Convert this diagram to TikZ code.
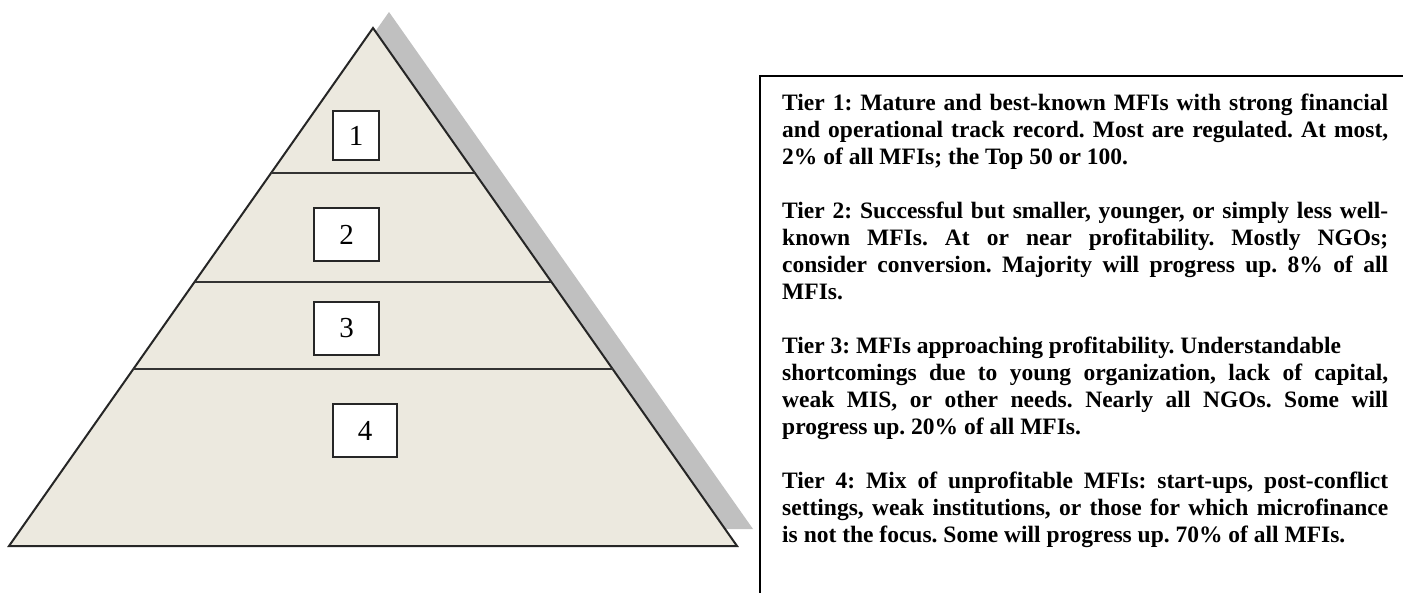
\documentclass[tikz,border=0pt]{standalone}
\usepackage{fontspec}
\setmainfont{Liberation Serif}
\usetikzlibrary{calc}
\definecolor{pyrfill}{RGB}{236,233,223}
\definecolor{shadowgray}{RGB}{192,192,192}
\frenchspacing
\newcommand{\justline}[1]{\makebox[606pt][s]{\spaceskip=0pt\xspaceskip=0pt #1}}
\newcommand{\plainline}[1]{{\spaceskip=0pt\xspaceskip=0pt #1}}
\begin{document}
\begin{tikzpicture}[x=1pt,y=-1pt,
  tierbox/.style={draw=black!85, line width=1.6pt, fill=white, inner sep=0pt, font=\fontsize{29}{29}\selectfont},
  tiertext/.style={anchor=base west, inner sep=0pt, align=left, text width=606pt, font=\fontsize{23.5}{27}\selectfont\bfseries},
  divider/.style={draw=black!80, line width=2pt},
  pyr/.style={fill=pyrfill, draw=black!85, line width=2pt, line join=miter},
  frame/.style={draw=black, line width=2.5pt}
]
\useasboundingbox (0,0) rectangle (1403,592);
\clip (0,0) rectangle (1403,592);
\fill[white] (0,0) rectangle (1403,592);

% shadow of the pyramid
\fill[shadowgray] (389,12) -- (753,529) -- (25,529) -- cycle;

% pyramid
\coordinate (apex) at (373,28);
\coordinate (bl) at (9,546);
\coordinate (br) at (737,546);
\draw[pyr] (apex) -- (br) -- (bl) -- cycle;

% tier dividers
\coordinate (d1l) at ($(apex)!0.280!(bl)$);
\coordinate (d1r) at ($(apex)!0.280!(br)$);
\coordinate (d2l) at ($(apex)!0.490!(bl)$);
\coordinate (d2r) at ($(apex)!0.490!(br)$);
\coordinate (d3l) at ($(apex)!0.658!(bl)$);
\coordinate (d3r) at ($(apex)!0.658!(br)$);
\draw[divider] (d1l) -- (d1r);
\draw[divider] (d2l) -- (d2r);
\draw[divider] (d3l) -- (d3r);

% tier number boxes
\node[tierbox, minimum width=46pt, minimum height=49pt] (b1) at (356,135.5) {1};
\node[tierbox, minimum width=65pt, minimum height=53pt] (b2) at (346.5,234.5) {2};
\node[tierbox, minimum width=65pt, minimum height=53pt] (b3) at (346.5,328.5) {3};
\node[tierbox, minimum width=64pt, minimum height=53pt] (b4) at (365,430.5) {4};

% text frame (runs past the right and bottom edges)
\draw[frame] (1500,76) -- (760,76) -- (760,700);

% descriptions
\node[tiertext] (t1) at (782,110) {\justline{Tier 1: Mature and best-known MFIs with strong financial}\\
\justline{and operational track record. Most are regulated. At most,}\\
\plainline{2\% of all MFIs; the Top 50 or 100.}};

\node[tiertext] (t2) at (782,218) {\justline{Tier 2: Successful but smaller, younger, or simply less well-}\\
\justline{known MFIs. At or near profitability. Mostly NGOs;}\\
\justline{consider conversion. Majority will progress up. 8\% of all}\\
\plainline{MFIs.}};

\node[tiertext] (t3) at (782,353) {\plainline{Tier 3: MFIs approaching profitability. Understandable}\\
\justline{shortcomings due to young organization, lack of capital,}\\
\justline{weak MIS, or other needs. Nearly all NGOs. Some will}\\
\plainline{progress up. 20\% of all MFIs.}};

\node[tiertext] (t4) at (782,488) {\justline{Tier 4: Mix of unprofitable MFIs: start-ups, post-conflict}\\
\justline{settings, weak institutions, or those for which microfinance}\\
\plainline{is not the focus. Some will progress up. 70\% of all MFIs.}};
\end{tikzpicture}
\end{document}
